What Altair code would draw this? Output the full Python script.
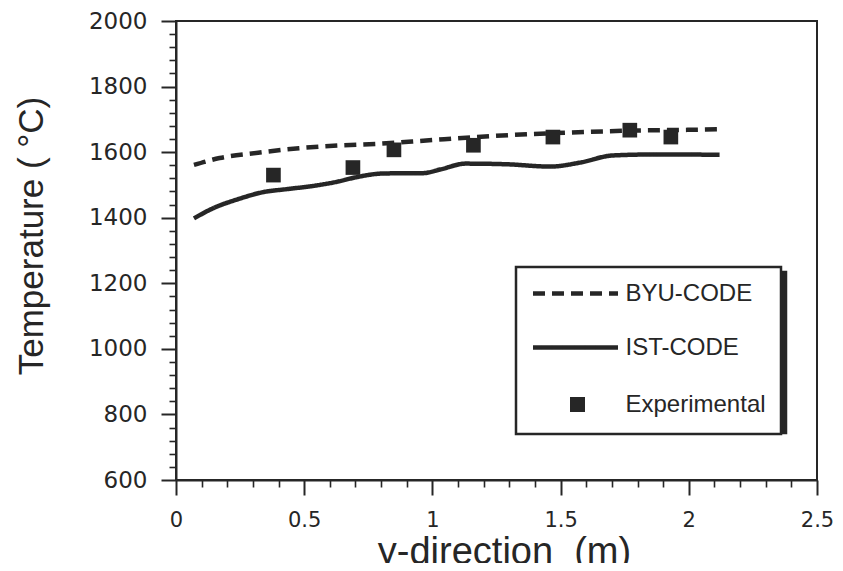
import altair as alt
import pandas as pd

# ---- data ----
byu_x = [0.07, 0.17, 0.32, 0.48, 0.63, 0.78, 1.0, 1.19, 1.38, 1.61, 1.80, 2.0, 2.13]
byu_t = [1561, 1582, 1598, 1612, 1620, 1625, 1637, 1647, 1655, 1662, 1666, 1668, 1670]

ist_x = [0.07, 0.145, 0.24, 0.34, 0.43, 0.535, 0.63, 0.70, 0.81, 0.965, 1.03, 1.13, 1.29, 1.46, 1.575, 1.705, 1.875, 2.12]
ist_t = [1398, 1429, 1456, 1478, 1487, 1497, 1510, 1523, 1535, 1536, 1547, 1565, 1563, 1556, 1568, 1590, 1593, 1592]

exp_x = [0.38, 0.69, 0.85, 1.16, 1.47, 1.77, 1.93]
exp_t = [1530, 1553, 1607, 1621, 1646, 1667, 1646]

series_names = ["BYU-CODE", "IST-CODE", "Experimental"]
shadow_keys = ["s1", "s2", "s3"]

x_major = [0, 0.5, 1, 1.5, 2, 2.5]
x_minor = [0.1, 0.2, 0.3, 0.4, 0.6, 0.7, 0.8, 0.9, 1.1, 1.2, 1.3, 1.4,
           1.6, 1.7, 1.8, 1.9, 2.1, 2.2, 2.3, 2.4]
y_major = [600, 800, 1000, 1200, 1400, 1600, 1800, 2000]
y_minor = [640, 680, 720, 760, 840, 880, 920, 960, 1040, 1080, 1120, 1160,
           1240, 1280, 1320, 1360, 1440, 1480, 1520, 1560, 1640, 1680, 1720,
           1760, 1840, 1880, 1920, 1960]

rows = []
for xv, tv in zip(byu_x, byu_t):
    rows.append({"x": xv, "T": tv, "series": "BYU-CODE", "key": "s1"})
for xv, tv in zip(ist_x, ist_t):
    rows.append({"x": xv, "T": tv, "series": "IST-CODE", "key": "s2"})
for xv, tv in zip(exp_x, exp_t):
    rows.append({"x": xv, "T": tv, "series": "Experimental", "key": "s3"})
df = pd.DataFrame(rows)

INK = "#262626"
SANS = "Liberation Sans, Arial, Helvetica, sans-serif"
WIDE = "DejaVu Sans, Verdana, sans-serif"

# legend symbol paths (unit = half of sqrt(symbolSize) = 7.5 px)
LINE_PATH = "M-5.667,0H5.667"
SQUARE_PATH = ("M-0.733,-0.7H1.267M-0.733,-0.233H1.267"
               "M-0.733,0.233H1.267M-0.733,0.7H1.267")

xs = alt.Scale(domain=[0, 2.5], nice=False, zero=False)
ys = alt.Scale(domain=[600, 2000], nice=False, zero=False)

major_x = alt.Axis(
    orient="bottom", values=x_major, format="~g", grid=False,
    tickSize=15, tickWidth=2, tickColor=INK,
    domainColor=INK, domainWidth=2,
    labelFont=WIDE, labelFontSize=21, labelColor=INK, labelPadding=14,
    labelFlush=False,
    title="y-direction\u00a0\u00a0(m)", titleFont=SANS, titleFontSize=38,
    titleFontWeight="normal", titleColor=INK, titleX=328, titleY=83,
    titleBaseline="alphabetic", titleAlign="center",
)
major_y = alt.Axis(
    orient="left", values=y_major, format="d", grid=False,
    tickSize=15, tickWidth=2, tickColor=INK,
    domainColor=INK, domainWidth=2,
    labelFont=WIDE, labelFontSize=23, labelColor=INK, labelPadding=14,
    labelFlush=False,
    title="Temperature ( °C)", titleFont=SANS, titleFontSize=35,
    titleFontWeight="normal", titleColor=INK, titleX=-134, titleY=214.5,
    titleBaseline="alphabetic", titleAlign="center", titleAngle=270,
)
minor_x = alt.Axis(
    orient="bottom", values=x_minor, grid=False, labels=False, domain=False,
    tickSize=7, tickWidth=1.6, tickColor=INK,
)
minor_y = alt.Axis(
    orient="left", values=y_minor, grid=False, labels=False, domain=False,
    tickSize=7, tickWidth=1.6, tickColor=INK,
)

legend_common = dict(
    title=None, orient="none",
    symbolSize=225, symbolStrokeWidth=4.5, symbolOffset=33,
    labelFont=SANS, labelFontSize=24, labelOffset=38,
    labelLimit=400, rowPadding=30, padding=14.5,
)

main_legend = alt.Legend(
    legendX=340, legendY=246, zindex=2,
    symbolStrokeColor=INK, symbolOpacity=1, labelColor=INK,
    strokeColor=INK, fillColor="white",
    **legend_common,
)
shadow_legend = alt.Legend(
    legendX=345, legendY=251, zindex=1,
    symbolOpacity=0, labelOpacity=0,
    labelExpr="datum.label == 's1' ? 'BYU-CODE' : datum.label == 's2' ? 'IST-CODE' : 'Experimental'",
    strokeColor=INK, fillColor=INK,
    **legend_common,
)

empty = alt.datum.x < -10

minor = alt.Chart(df).mark_point(opacity=0).encode(
    x=alt.X("x:Q", scale=xs, axis=minor_x, title=None),
    y=alt.Y("T:Q", scale=ys, axis=minor_y, title=None),
)

dash_scale = alt.Scale(domain=series_names, range=[[12, 7], [1, 0], [1, 0]])

shadow_layer = alt.Chart(df).transform_filter(empty).mark_point(
    filled=False, color=INK, strokeWidth=4.5, opacity=1
).encode(
    x=alt.X("x:Q", scale=xs, axis=None),
    y=alt.Y("T:Q", scale=ys, axis=None),
    color=alt.Color(
        "key:N",
        scale=alt.Scale(domain=shadow_keys, range=[INK, INK, INK]),
        legend=shadow_legend,
    ),
)

lines = alt.Chart(df).transform_filter(
    alt.FieldOneOfPredicate(field="series", oneOf=["BYU-CODE", "IST-CODE"])
).mark_line(strokeWidth=4.5, color=INK, interpolate="monotone").encode(
    x=alt.X("x:Q", scale=xs, axis=major_x),
    y=alt.Y("T:Q", scale=ys, axis=major_y),
    strokeDash=alt.StrokeDash("series:N", scale=dash_scale, legend=main_legend),
)

points = alt.Chart(df).transform_filter(
    alt.datum.series == "Experimental"
).mark_point(shape="square", size=215, filled=True, color=INK, opacity=1, strokeWidth=0).encode(
    x=alt.X("x:Q", scale=xs, axis=None),
    y=alt.Y("T:Q", scale=ys, axis=None),
)

legend_layer = alt.Chart(df).transform_filter(empty).mark_point(
    filled=False, color=INK, strokeWidth=4.5, opacity=1
).encode(
    x=alt.X("x:Q", scale=xs, axis=None),
    y=alt.Y("T:Q", scale=ys, axis=None),
    shape=alt.Shape(
        "series:N",
        scale=alt.Scale(domain=series_names, range=[LINE_PATH, LINE_PATH, SQUARE_PATH]),
        legend=main_legend,
    ),
    strokeDash=alt.StrokeDash("series:N", scale=dash_scale, legend=main_legend),
)

chart = alt.layer(shadow_layer, minor, lines, points, legend_layer).resolve_axis(
    x="independent", y="independent"
).properties(
    width=641, height=459,
    autosize=alt.AutoSizeParams(type="none"),
    padding={"left": 168, "top": 13, "right": 18, "bottom": 83},
    background="white",
).configure_view(
    stroke=INK, strokeWidth=2
).configure_legend(
    strokeWidth=2.5
)

chart.save("out.html", embed_options={"renderer": "svg", "actions": False})
